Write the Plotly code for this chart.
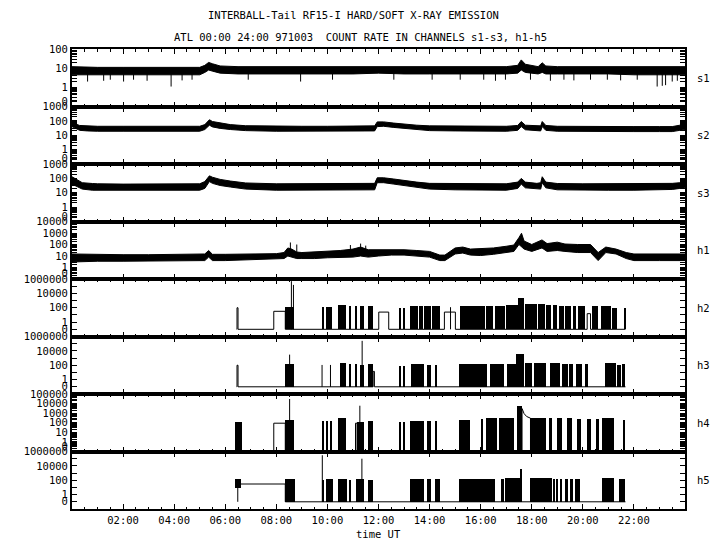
import numpy as np
import plotly.graph_objects as go
from plotly.subplots import make_subplots

FONT = "DejaVu Sans Mono"
FS = 10.5
ZERO = 0.1  # level at which zero counts are drawn

channels = ["s1", "s2", "s3", "h1", "h2", "h3", "h4", "h5"]
y_log_ranges = {"s1": [-1, 2], "s2": [-1, 3], "s3": [-1, 3], "h1": [-1, 4],
                "h2": [-2, 6], "h3": [-2, 6], "h4": [-1, 5], "h5": [-2, 6]}
y_labels = {
    "s1": [100, 10, 1], "s2": [1000, 100, 10, 1], "s3": [1000, 100, 10, 1],
    "h1": [10000, 1000, 100, 10, 1], "h4": [100000, 10000, 1000, 100, 10, 1],
    "h2": [1000000, 10000, 100, 1], "h3": [1000000, 10000, 100, 1], "h5": [1000000, 10000, 100, 1],
}
sparse_minor = {"h2": [100000, 1000, 10], "h3": [100000, 1000, 10], "h5": [100000, 1000, 10]}
x_tick_hours = list(range(0, 25, 2))
x_tick_text = [""] + ["%02d:00" % h for h in range(2, 23, 2)] + [""]

title1 = "INTERBALL-Tail RF15-I HARD/SOFT X-RAY EMISSION"
title2 = "ATL 00:00 24:00 971003  COUNT RATE IN CHANNELS s1-s3, h1-h5"
x_title = "time UT"

# ---------------- continuous channels: band envelopes (counts) ----------------
s1_t = [0, 0.5, 1, 2, 3, 4, 5, 5.2, 5.35, 5.5, 5.8, 6.5, 8, 9, 10, 11, 12, 13, 14, 15, 16, 17,
        17.45, 17.59, 17.75, 18.25, 18.41, 18.55, 19, 20, 21, 22, 23, 24]
s1_lo = [4.5, 4.5, 4.5, 4.5, 4.5, 4.5, 4.5, 6, 8, 7, 5.5, 5, 5, 5, 5, 5, 5.5, 5, 5, 5, 5, 5,
         5.5, 8, 6, 5, 6, 5, 5, 5, 5, 4.5, 4.5, 4.5]
s1_hi = [12, 11, 11, 11, 11, 11, 11, 14, 20, 17, 13, 12, 12, 12, 12, 12, 13, 12, 12, 12, 12, 12,
         14, 27, 16, 12, 19, 13, 12, 12, 12, 12, 12, 12]
s1_spk_t = [0.61, 1.24, 1.5, 2.02, 2.41, 2.94, 3.88, 4.31, 4.7, 6.9, 8.95, 10.2, 12.6, 14.1, 15.2,
            16.12, 16.58, 16.97, 17.95, 18.73, 19.26, 19.65, 20.3, 20.96, 21.48, 22.13,
            22.91, 23.11, 23.24, 23.5, 23.7]
s1_spk_v = [2, 2.2, 2.5, 2, 2.5, 2.2, 1.1, 2.3, 2.5, 2.5, 2, 2.5, 2.5, 2.5, 2.5,
            2.5, 2.2, 2.5, 2.5, 2.2, 2.5, 2.3, 2.5, 2.5, 2.3, 2.5,
            1.1, 1.2, 1.3, 2, 2.2]

s2_t = [0, 0.15, 0.3, 0.6, 1, 2, 3, 4, 5, 5.2, 5.38, 5.5, 5.8, 6.2, 6.8, 8, 9, 10, 11, 11.85, 11.95,
        12.2, 12.6, 13.0, 13.5, 14, 15, 16, 17, 17.45, 17.59, 17.75, 18.2, 18.35, 18.41, 18.55, 19,
        20, 21, 22, 23, 23.5, 23.8, 24]
s2_lo = [40, 28, 22, 20, 19, 19, 19, 19, 19, 25, 50, 38, 30, 25, 21, 19, 19, 19, 19, 20, 40,
         42, 35, 30, 24, 21, 20, 20, 19, 22, 40, 24, 20, 20, 40, 22, 19,
         18, 18, 18, 18, 18, 22, 25]
s2_hi = [90, 60, 48, 44, 42, 42, 42, 42, 42, 55, 120, 90, 70, 55, 46, 42, 42, 42, 42, 45, 85,
         85, 70, 58, 50, 45, 44, 44, 42, 48, 90, 50, 44, 45, 90, 48, 42,
         40, 40, 40, 40, 40, 50, 55]

s3_t = [0, 0.15, 0.4, 0.8, 1, 2, 3, 4, 5, 5.2, 5.38, 5.5, 5.8, 6.2, 6.8, 8, 9, 10, 11, 11.85, 11.95,
        12.2, 12.6, 13.0, 13.5, 14, 15, 16, 17, 17.45, 17.59, 17.75, 18.2, 18.35, 18.41, 18.55, 19,
        20, 21, 22, 23, 23.5, 23.8, 24]
s3_lo = [40, 30, 18, 15, 15, 14, 14, 14, 15, 20, 60, 45, 32, 25, 18, 15, 15, 15, 15, 16, 50,
         50, 40, 32, 24, 18, 16, 16, 15, 20, 40, 22, 18, 18, 50, 22, 16,
         15, 15, 15, 16, 17, 20, 22]
s3_hi = [130, 90, 50, 44, 42, 40, 40, 40, 42, 60, 150, 120, 85, 65, 48, 42, 42, 42, 42, 45, 110,
         110, 90, 70, 55, 45, 44, 44, 42, 55, 100, 55, 45, 50, 130, 55, 44,
         42, 42, 42, 44, 45, 50, 55]

h1_t = [0, 1, 2, 3, 4, 5, 5.2, 5.35, 5.5, 6, 7, 8, 8.3, 8.45, 8.6, 8.8, 9, 9.5, 10, 10.5,
        11, 11.3, 11.6, 12, 12.5, 13, 13.5, 14, 14.4, 14.6, 15, 15.3, 15.6, 16, 16.5, 17, 17.3,
        17.5, 17.6, 17.7, 18, 18.4, 18.6, 19, 19.3, 19.8, 20.3, 20.6, 20.9, 21.3, 21.7, 22, 23, 24]
h1_lo = [3, 3.5, 3.5, 3.5, 3.5, 3.5, 4, 8, 4, 4, 4.5, 5, 6, 10, 8, 6, 6, 6, 7, 7,
         8, 10, 8, 10, 12, 12, 10, 8, 4, 4, 15, 18, 12, 11, 14, 20, 25,
         100, 60, 40, 25, 50, 25, 30, 25, 20, 20, 4, 20, 15, 6, 4, 4, 4]
h1_hi = [15, 13, 13, 13, 13, 13, 15, 30, 14, 14, 16, 16, 20, 50, 40, 22, 20, 22, 25, 30,
         40, 60, 35, 35, 40, 35, 30, 25, 12, 12, 50, 60, 40, 43, 50, 70, 90,
         400, 950, 200, 100, 250, 120, 160, 110, 100, 100, 20, 60, 40, 20, 15, 15, 15]
h1_spk_t = [8.55, 8.8, 10.9, 11.3, 11.5]
h1_spk_v = [150, 100, 90, 120, 80]

# ---------------- gated channels: line path, filled blocks, spikes (counts) ----------------
h2_line_t = [6.45, 6.46, 6.46, 6.50, 6.50, 7.90, 7.90, 8.35, 8.35, 12.01, 12.01, 12.40, 12.40,
             14.58, 14.58, 15.01, 15.01, 20.17, 20.17, 20.30, 20.30, 21.67]
h2_line_v = [0, 0, 100, 100, 0, 0, 32, 32, 0, 0, 25, 25, 0,
             0, 25, 25, 0, 0, 15, 15, 0, 0]
h2_b0 = [8.35, 9.79, 9.96, 10.40, 10.87, 11.10, 11.27, 11.58, 12.82, 12.96, 13.22, 13.60, 13.70,
         13.80, 14.10, 15.21, 15.60, 16.22, 16.55, 17.00, 17.45, 17.72, 18.25, 18.55, 18.82, 19.05,
         19.30, 19.60, 19.80, 20.35, 20.70, 21.15, 21.62]
h2_b1 = [8.71, 9.88, 10.19, 10.74, 10.92, 11.12, 11.42, 11.80, 12.86, 13.00, 13.55, 13.65, 13.75,
         14.06, 14.40, 15.60, 16.15, 16.50, 16.95, 17.45, 17.70, 18.20, 18.50, 18.75, 19.00, 19.25,
         19.55, 19.75, 20.10, 20.60, 21.10, 21.35, 21.67]
h2_btop = [140, 120, 120, 250, 150, 150, 150, 150, 100, 100, 180, 150, 150,
           170, 160, 150, 150, 170, 200, 250, 2000, 300, 350, 250, 220, 200,
           200, 150, 150, 150, 180, 100, 100]
h2_spk_t = [8.59, 8.67, 14.82]
h2_spk_v = [500000, 150000, 120]

h3_line_t = [6.45, 6.46, 6.46, 6.50, 6.50, 11.79, 11.79, 11.84, 11.84, 21.67]
h3_line_v = [0, 0, 100, 100, 0, 0, 14, 14, 0, 0]
h3_b0 = [8.35, 10.51, 10.87, 11.10, 11.27, 11.58, 12.82, 12.96, 13.28, 13.90, 14.20, 15.14,
         15.60, 16.35, 17.05, 17.40, 17.75, 18.10, 18.70, 19.20, 19.45, 19.75, 20.10, 20.85,
         21.35, 21.55]
h3_b1 = [8.71, 10.74, 10.92, 11.16, 11.42, 11.79, 12.86, 13.01, 13.80, 14.06, 14.29, 15.60,
         16.25, 16.90, 17.40, 17.70, 18.00, 18.55, 19.10, 19.40, 19.60, 19.95, 20.20, 21.30,
         21.50, 21.67]
h3_btop = [150, 220, 150, 150, 110, 160, 100, 100, 160, 120, 120, 150,
           180, 200, 200, 5000, 250, 250, 220, 200, 200, 200, 200, 250,
           120, 200]
h3_spk_t = [8.52, 9.79, 10.12, 11.36]
h3_spk_v = [3000, 110, 110, 250000]

h4_line_t = [6.66, 7.90, 7.90, 8.35, 8.35, 11.10, 11.10, 11.16, 11.16, 17.62, 17.62, 17.70, 17.80,
             17.95, 17.95, 21.67]
h4_line_v = [0, 0, 90, 90, 0, 0, 90, 90, 0, 0, 3000, 900, 450, 300, 0, 0]
h4_b0 = [6.40, 8.35, 9.79, 9.96, 10.12, 10.40, 11.16, 11.58, 12.82, 12.96, 13.22, 13.90, 14.20,
         15.14, 16.00, 16.19, 16.72, 17.43, 17.95, 18.67, 19.00, 19.39, 19.78, 20.17, 20.50,
         20.76, 21.58]
h4_b1 = [6.66, 8.71, 9.88, 10.00, 10.19, 10.74, 11.42, 11.79, 12.86, 13.01, 13.80, 14.06, 14.29,
         15.60, 16.10, 16.65, 17.30, 17.62, 18.54, 18.80, 19.19, 19.58, 19.91, 20.30, 20.63,
         21.22, 21.67]
h4_btop = [135, 200, 150, 150, 150, 320, 130, 150, 120, 120, 170, 150, 150,
           200, 250, 300, 350, 6000, 350, 300, 300, 300, 250, 250, 250,
           350, 200]
h4_spk_t = [8.52, 11.27]
h4_spk_v = [30000, 6000]

h5_line_t = [6.49, 6.49, 8.35, 8.35, 21.67]
h5_line_v = [0, 30, 30, 0, 0]
h5_b0 = [6.40, 8.35, 9.79, 9.96, 10.40, 10.87, 11.10, 11.58, 13.22, 13.90, 14.20, 15.14,
         16.78, 16.97, 17.56, 17.95, 18.85, 18.95, 19.10, 19.30, 19.50, 19.70, 20.76, 21.40]
h5_b1 = [6.62, 8.75, 9.88, 10.20, 10.75, 10.92, 11.42, 11.80, 13.80, 14.06, 14.40, 16.58,
         16.90, 17.56, 17.62, 18.80, 18.90, 19.00, 19.20, 19.40, 19.60, 19.90, 21.22, 21.67]
h5_bbot = [10, 0, 0, 0, 0, 0, 0, 0, 0, 0, 0, 0,
           0, 0, 0, 0, 0, 0, 0, 0, 0, 0, 0, 0]
h5_btop = [160, 150, 120, 150, 200, 120, 150, 130, 200, 150, 150, 200,
           200, 250, 5000, 250, 200, 200, 200, 200, 200, 200, 250, 180]
h5_spk_t = [9.80, 11.35]
h5_spk_v = [300000, 100000]

# ------------------------------------------------------------------------------
def z(v):
    v = np.asarray(v, dtype=float)
    return np.where(v <= 0, ZERO, v)

fig = make_subplots(rows=8, cols=1, shared_xaxes=True, vertical_spacing=0)
LINE = dict(color="black", width=1)


def add_band(row, t, lo, hi):
    fig.add_trace(go.Scatter(x=t, y=lo, mode="lines", line=LINE, hoverinfo="skip"), row=row, col=1)
    fig.add_trace(go.Scatter(x=t, y=hi, mode="lines", line=LINE, fill="tonexty",
                             fillcolor="black", hoverinfo="skip"), row=row, col=1)


def add_spikes(row, st, sv, base_t=None, lo=None, hi=None):
    xs, ys = [], []
    for t, v in zip(st, sv):
        if base_t is not None:
            b = float(np.sqrt(np.interp(t, base_t, lo) * np.interp(t, base_t, hi)))
        else:
            b = ZERO
        xs += [t, t, None]
        ys += [v, b, None]
    fig.add_trace(go.Scatter(x=xs, y=ys, mode="lines", line=LINE, hoverinfo="skip"), row=row, col=1)


def add_gated(row, lt, lv, b0, b1, btop, bbot=None):
    fig.add_trace(go.Scatter(x=lt, y=z(lv), mode="lines", line=LINE, hoverinfo="skip"), row=row, col=1)
    b0 = np.asarray(b0); b1 = np.asarray(b1)
    bot = z(bbot if bbot is not None else np.zeros(len(b0)))
    top = np.asarray(btop, dtype=float)
    fig.add_trace(go.Bar(x=(b0 + b1) / 2, y=top - bot, base=bot, width=(b1 - b0),
                         marker=dict(color="black", line=dict(width=0)), hoverinfo="skip"),
                  row=row, col=1)


add_band(1, s1_t, s1_lo, s1_hi); add_spikes(1, s1_spk_t, s1_spk_v, s1_t, s1_lo, s1_hi)
add_band(2, s2_t, s2_lo, s2_hi)
add_band(3, s3_t, s3_lo, s3_hi)
add_band(4, h1_t, h1_lo, h1_hi); add_spikes(4, h1_spk_t, h1_spk_v, h1_t, h1_lo, h1_hi)
add_gated(5, h2_line_t, h2_line_v, h2_b0, h2_b1, h2_btop); add_spikes(5, h2_spk_t, h2_spk_v)
add_gated(6, h3_line_t, h3_line_v, h3_b0, h3_b1, h3_btop); add_spikes(6, h3_spk_t, h3_spk_v)
add_gated(7, h4_line_t, h4_line_v, h4_b0, h4_b1, h4_btop); add_spikes(7, h4_spk_t, h4_spk_v)
add_gated(8, h5_line_t, h5_line_v, h5_b0, h5_b1, h5_btop, h5_bbot); add_spikes(8, h5_spk_t, h5_spk_v)

PANEL_PX = 57.5
ZERO_LABEL_PX = 5.5
tfont = dict(family=FONT, size=FS, color="black")
AX_LW = 2

for i, ch in enumerate(channels, start=1):
    lo_r, hi_r = y_log_ranges[ch]
    labels = list(y_labels[ch])
    long_vals = list(labels)
    if ch in sparse_minor:
        zero_pos = ZERO
        long_vals.append(ZERO)
        short_vals = list(sparse_minor[ch])
    else:
        px_per_dec = PANEL_PX / (hi_r - lo_r)
        zero_pos = 10 ** (lo_r + ZERO_LABEL_PX / px_per_dec)
        short_vals = [k * 10.0 ** d for d in range(lo_r, hi_r) for k in range(2, 10)]
    tv = labels + [zero_pos] + short_vals
    tt = [str(v) for v in labels] + ["0"] + [""] * len(short_vals)
    # primary axis: labels + short ticks
    fig.update_yaxes(row=i, col=1, type="log", range=[lo_r, hi_r], tickmode="array",
                     tickvals=tv, ticktext=tt, ticks="inside", ticklen=5, tickwidth=1,
                     tickcolor="black", mirror="ticks", showline=True, linecolor="black",
                     linewidth=AX_LW, showgrid=False, zeroline=False, tickfont=tfont)
    fig.update_xaxes(row=i, col=1, range=[0, 24], tickmode="array", tickvals=x_tick_hours,
                     ticktext=x_tick_text, ticks="inside", ticklen=5, tickwidth=1,
                     tickcolor="black", mirror="ticks", showline=True, linecolor="black",
                     linewidth=AX_LW, showgrid=False, zeroline=False, tickfont=tfont,
                     showticklabels=(i == 8),
                     minor=dict(ticks="inside", ticklen=2.5, tickcolor="black", tickwidth=1,
                                dtick=0.5, tick0=0))
    # overlay axis: long ticks at labelled decades
    base_y = "y" if i == 1 else "y%d" % i
    base_x = "x" if i == 1 else "x%d" % i
    fig.layout["yaxis%d" % (8 + i)] = dict(
        type="log", range=[lo_r, hi_r], overlaying=base_y, anchor=base_x, side="left",
        tickmode="array", tickvals=long_vals, ticks="inside", ticklen=10, tickwidth=1,
        tickcolor="black", showticklabels=False, mirror="ticks", showline=True,
        linecolor="black", linewidth=AX_LW, showgrid=False, zeroline=False)

annotations = [
    dict(text=title1, x=0.46, y=1.075, xref="paper", yref="paper", showarrow=False,
         font=tfont, xanchor="center", yanchor="middle"),
    dict(text=title2, x=0.47, y=1.027, xref="paper", yref="paper", showarrow=False,
         font=tfont, xanchor="center", yanchor="middle"),
    dict(text=x_title, x=0.5, y=-0.055, xref="paper", yref="paper", showarrow=False,
         font=tfont, xanchor="center", yanchor="middle"),
]
for i, ch in enumerate(channels):
    annotations.append(dict(text=ch, x=1.017, y=1 - (i + 0.5) / 8, xref="paper", yref="paper",
                            showarrow=False, font=tfont, xanchor="left", yanchor="middle"))

# the page body adds an 8 px offset; the figure is sized so the plot area lands at 72..685 x 49..509
fig.update_layout(width=712, height=542, margin=dict(l=64, r=35, t=41, b=41),
                  plot_bgcolor="white", paper_bgcolor="white", showlegend=False,
                  barmode="overlay", bargap=0, annotations=annotations,
                  font=tfont)

fig.write_html("out.html")
